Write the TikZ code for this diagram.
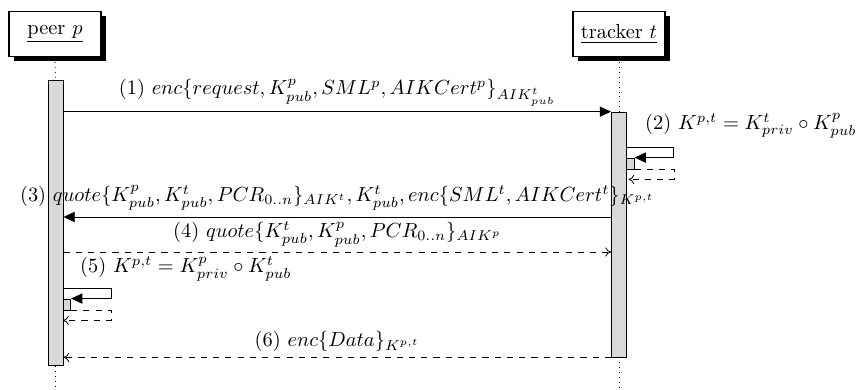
\documentclass[tikz,border=0pt]{standalone}
\usepackage{amsmath, amssymb}
\usepackage{tikz}
\usetikzlibrary{arrows.meta, positioning, calc, shadows}

\begin{document}
\begin{tikzpicture}[x=0.49pt, y=-0.49pt,
    inst/.style={draw, thick, fill=white, minimum width=45pt, minimum height=22pt,
        drop shadow={shadow xshift=2.4pt, shadow yshift=-2.4pt, fill=black, opacity=1}},
    actbar/.style={draw, fill=gray!30, inner sep=0pt, minimum width=7.4pt},
    nestbar/.style={draw, fill=gray!30, inner sep=0pt, minimum width=3.6pt, minimum height=5.4pt},
    life/.style={dotted},
    call/.style={-{Triangle[length=5.5pt,width=5pt]}},
    ret/.style={dashed, -{To[length=2.8pt,width=4.5pt]}}]
    \useasboundingbox (0,0) rectangle (860,389);
    % instances
    \node[inst] (peer) at (55,34) {\underline{peer $p$}};
    \node[inst] (tracker) at (619,34) {\underline{tracker $t$}};
    % activation bars
    \node[actbar, minimum height=140pt] (pbar) at (55.5,223) {};
    \node[actbar, minimum height=120pt] (tbar) at (619,234.5) {};
    \node[nestbar] (tnest) at (630.5,163.5) {};
    \node[nestbar] (pnest) at (67,304.5) {};
    \coordinate (pend) at (55.5,389);
    \coordinate (tend) at (619,389);
    \draw[life] (peer.south) -- (pbar.north);
    \draw[life] (pbar.south) -- (pend);
    \draw[life] (tracker.south) -- (tbar.north);
    \draw[life] (tbar.south) -- (tend);
    % messages
    \coordinate (c2) at (0,147);
    \coordinate (m3) at (0,217);
    \coordinate (m4) at (0,252);
    \coordinate (c5) at (0,288);
    \draw[call] (pbar.east |- tbar.north) -- (tbar.north west)
        node[midway, above=-0.8pt] {(1) $enc\{request, K^p_{pub}, SML^p, AIKCert^p\}_{AIK^t_{pub}}$};
    \draw[call] (tbar.east |- c2) -- ++(46,0) |- (tnest.north east);
    \node[anchor=west] (l2) at (638,126) {(2) $K^{p,t} = K^t_{priv} \circ K^p_{pub}$};
    \draw[ret] (tnest.south east) -- ++(40,0) -- ++(0,10) -- ++(-46,0);
    \draw[call] (tbar.west |- m3) -- (pbar.east |- m3)
        node[midway, above=-0.3pt] {(3) $quote\{K^p_{pub}, K^t_{pub}, PCR_{0..n}\}_{AIK^t}, K^t_{pub}, enc\{SML^t, AIKCert^t\}_{K^{p,t}}$};
    \draw[ret] (pbar.east |- m4) -- (tbar.west |- m4)
        node[midway, above=-1pt] {(4) $quote\{K^t_{pub}, K^p_{pub}, PCR_{0..n}\}_{AIK^p}$};
    \draw[call] (pbar.east |- c5) -- ++(48,0) |- (pnest.north east);
    \node[anchor=west] (l5) at (73,269) {(5) $K^{p,t} = K^p_{priv} \circ K^t_{pub}$};
    \draw[ret] (pnest.south east) -- ++(40,0) -- ++(0,10) -- ++(-48,0);
    \draw[ret] (tbar.south west) -- (pbar.east |- tbar.south)
        node[midway, above=-0.8pt] {(6) $enc\{Data\}_{K^{p,t}}$};
\end{tikzpicture}
\end{document}
